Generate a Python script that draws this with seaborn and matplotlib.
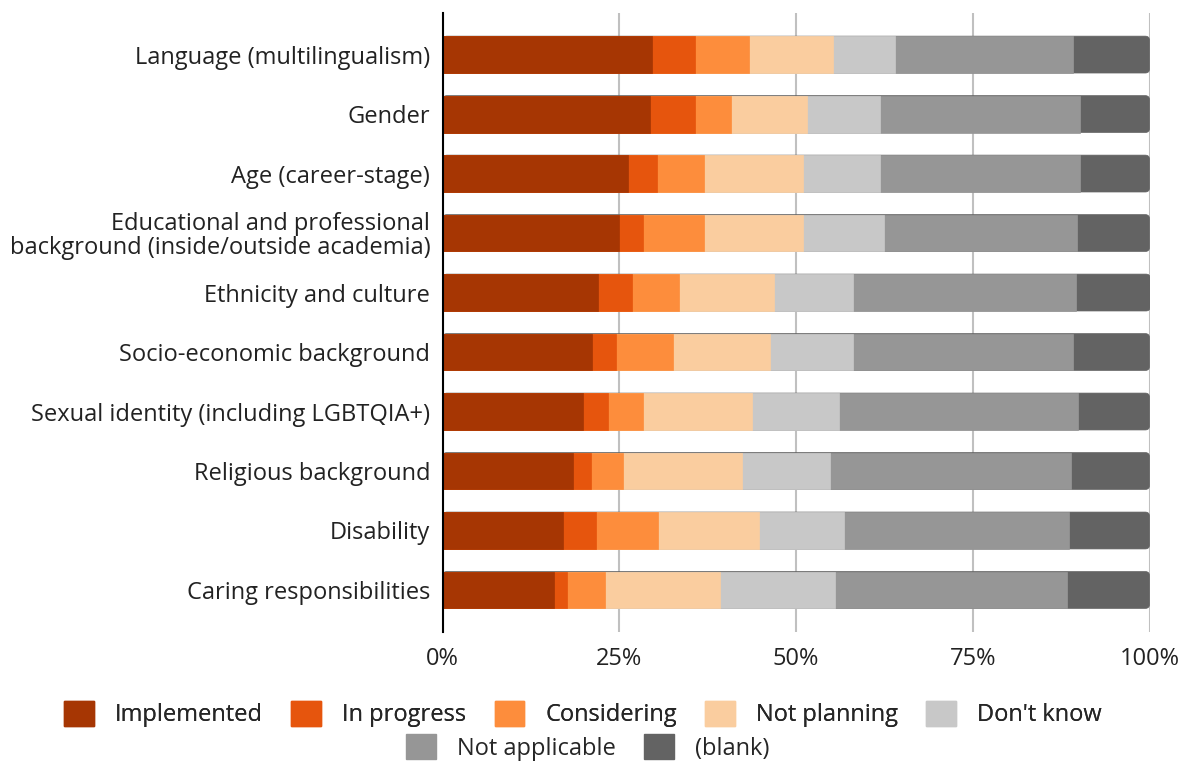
import numpy as np
import pandas as pd
import seaborn as sns
import matplotlib.pyplot as plt
from matplotlib.patches import Patch, FancyBboxPatch

categorias = [
    "Language (multilingualism)",
    "Gender",
    "Age (career-stage)",
    "Educational and professional\nbackground (inside/outside academia)",
    "Ethnicity and culture",
    "Socio-economic background",
    "Sexual identity (including LGBTQIA+)",
    "Religious background",
    "Disability",
    "Caring responsibilities",
]

series = ["Implemented", "In progress", "Considering", "Not planning",
          "Don't know", "Not applicable", "(blank)"]

implemented = [29.6, 29.3, 26.2, 24.9, 22.0, 21.1, 19.8, 18.5, 17.0, 15.7]
in_progress = [6.1, 6.4, 4.1, 3.5, 4.8, 3.4, 3.6, 2.5, 4.7, 1.9]
considering = [7.7, 5.1, 6.7, 8.6, 6.7, 8.1, 5.0, 4.5, 8.7, 5.4]
not_planning = [11.8, 10.8, 14.0, 14.0, 13.4, 13.7, 15.3, 16.9, 14.3, 16.3]
dont_know = [8.8, 10.2, 10.8, 11.4, 11.2, 11.8, 12.4, 12.4, 12.1, 16.2]
not_applicable = [25.2, 28.3, 28.3, 27.4, 31.5, 31.1, 33.8, 34.1, 31.8, 32.8]
blank = [10.8, 9.9, 9.9, 10.2, 10.5, 10.8, 10.1, 11.1, 11.4, 11.7]

colores = ["#a63603", "#e6550d", "#fd8d3c", "#facd9f",
           "#c8c8c8", "#969696", "#636363"]

df = pd.DataFrame({"categoria": categorias,
                   "Implemented": implemented,
                   "In progress": in_progress,
                   "Considering": considering,
                   "Not planning": not_planning,
                   "Don't know": dont_know,
                   "Not applicable": not_applicable,
                   "(blank)": blank})

# acumulados para apilar las barras
acum = df[series].cumsum(axis=1)

sns.set_style("white")
plt.rcParams['font.family'] = ['Open Sans', 'DejaVu Sans']
fs = 17

fig, ax = plt.subplots(figsize=(11.9, 7.61), dpi=100)
fig.subplots_adjust(left=0.372, right=0.966, top=0.983, bottom=0.170)

# se dibuja del ultimo al primero para que queden apiladas
for i, (s, c) in enumerate(reversed(list(zip(series, colores)))):
    sns.barplot(x=acum[s], y=df["categoria"], color=c, width=0.62,
                orient="h", ax=ax, saturation=1, edgecolor=c, linewidth=0.5)
    if i == 0:
        # esquinas redondeadas en el extremo derecho de la barra completa
        for p in list(ax.patches):
            r = FancyBboxPatch((p.get_x(), p.get_y()), p.get_width(), p.get_height(),
                               boxstyle="round,pad=0,rounding_size=0.6",
                               mutation_aspect=0.12, facecolor=c, edgecolor=c,
                               linewidth=0.5, zorder=p.get_zorder())
            p.remove()
            ax.add_patch(r)

ax.set_xlim(0, 100)
ax.set_ylim(9.7, -0.7)
ax.set_xticks([0, 25, 50, 75, 100])
ax.set_xticklabels(["0%", "25%", "50%", "75%", "100%"], fontsize=fs, color="#222222")
ax.tick_params(axis="y", labelsize=fs, labelcolor="#222222", length=0, pad=9)
ax.tick_params(axis="x", length=0, pad=11)
for lab in ax.get_yticklabels():
    lab.set_linespacing(1.0)
ax.set_xlabel("")
ax.set_ylabel("")
ax.grid(axis="x", color="#c0c0c0", linewidth=1.5)
ax.set_axisbelow(True)
for lado in ["top", "right", "bottom"]:
    ax.spines[lado].set_visible(False)
ax.spines["left"].set_color("black")
ax.spines["left"].set_linewidth(1.5)

handles = [Patch(facecolor=c, edgecolor=c) for c in colores]
leg1 = fig.legend(handles[:5], series[:5], loc="center", bbox_to_anchor=(0.49, 0.062),
                  ncol=5, frameon=False, fontsize=fs, handlelength=1.25, handleheight=1.25,
                  columnspacing=1.2, handletextpad=0.9, borderaxespad=0, borderpad=0)
fig.legend(handles[5:], series[5:], loc="center", bbox_to_anchor=(0.494, 0.018),
           ncol=2, frameon=False, fontsize=fs, handlelength=1.25, handleheight=1.25,
           columnspacing=1.2, handletextpad=0.9, borderaxespad=0, borderpad=0)
fig.add_artist(leg1)

plt.savefig("out.png", dpi=100)
